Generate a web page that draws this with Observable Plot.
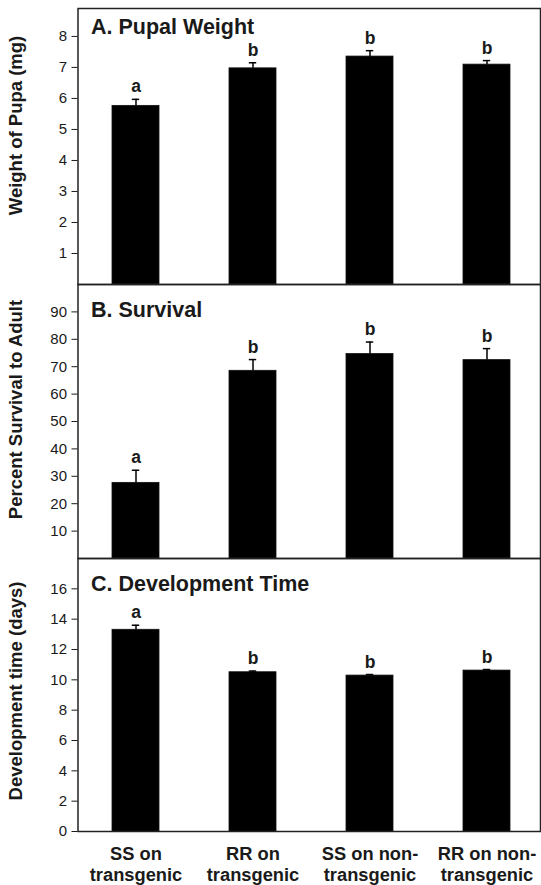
<!DOCTYPE html>
<html>
<head>
<meta charset="utf-8">
<script src="https://cdn.jsdelivr.net/npm/d3@7"></script>
<script src="https://cdn.jsdelivr.net/npm/@observablehq/plot@0.6"></script>
<style>
  html, body { margin: 0; padding: 0; background: #ffffff; overflow: hidden; }
  #chart svg { display: block; }
</style>
</head>
<body>
<div id="chart"></div>
<script>
// ---- data ----
const groups = ["SS on\ntransgenic", "RR on\ntransgenic", "SS on non-\ntransgenic", "RR on non-\ntransgenic"];

const weightTitle = "A. Pupal Weight";
const weightLabel = "Weight of Pupa (mg)";
const weightValues = [5.76, 6.97, 7.35, 7.09];
const weightErrors = [0.21, 0.18, 0.19, 0.13];
const weightLetters = ["a", "b", "b", "b"];
const weightTicks = [1, 2, 3, 4, 5, 6, 7, 8];

const survivalTitle = "B. Survival";
const survivalLabel = "Percent Survival to Adult";
const survivalValues = [27.6, 68.5, 74.6, 72.4];
const survivalErrors = [4.6, 4.1, 4.4, 4.2];
const survivalLetters = ["a", "b", "b", "b"];
const survivalTicks = [10, 20, 30, 40, 50, 60, 70, 80, 90];

const devTitle = "C. Development Time";
const devLabel = "Development time (days)";
const devValues = [13.3, 10.5, 10.28, 10.61];
const devErrors = [0.3, 0.08, 0.07, 0.07];
const devLetters = ["a", "b", "b", "b"];
const devTicks = [0, 2, 4, 6, 8, 10, 12, 14, 16];

// ---- drawing ----
const FONT = "'Liberation Sans', Arial, Helvetica, sans-serif";
const INK = "#1a1a1a";

function rows(values, errors, letters) {
  return groups.map((g, i) => ({group: g, value: values[i], err: errors[i], letter: letters[i]}));
}

function panel({title, label, values, errors, letters, ticks, domain, height, marginTop, marginBottom, titleDy, labelDy, showX}) {
  const data = rows(values, errors, letters);
  const marks = [
    Plot.barY(data, {x: "group", y: "value", fill: "#000", stroke: "#111", strokeWidth: 0.8}),
    Plot.ruleX(data, {x: "group", y1: "value", y2: d => d.value + d.err, stroke: "#000", strokeWidth: 1.5}),
    Plot.tickY(data, {x: "group", y: d => d.value + d.err, stroke: "#000", strokeWidth: 1.5, insetLeft: 19.8, insetRight: 19.8}),
    Plot.text(data, {x: "group", y: d => d.value + d.err, text: "letter", lineAnchor: "bottom", dy: -7,
      fontSize: 17.5, fontWeight: "bold", fill: INK}),
    Plot.axisY({ticks, tickSize: 6, tickPadding: 5, fontSize: 15, label: null, stroke: INK, fill: INK}),
    Plot.text([title], {text: d => d, frameAnchor: "top-left", textAnchor: "start", lineAnchor: "bottom",
      dx: 13, dy: titleDy, fontSize: 21.5, fontWeight: "bold", fill: INK}),
    Plot.text([label], {text: d => d, frameAnchor: "left", rotate: -90, textAnchor: "middle", lineAnchor: "middle",
      dx: -61.5, dy: labelDy, fontSize: 18.5, fontWeight: "bold", fill: INK}),
    Plot.frame({stroke: "#222", strokeWidth: 1.5})
  ];
  if (showX) {
    marks.push(Plot.axisX({tickSize: 0, tickPadding: 14, fontSize: 18.3, fontWeight: "bold",
      lineHeight: 1.12, fill: INK, label: null}));
  }
  return Plot.plot({
    width: 541,
    height,
    marginTop,
    marginBottom,
    marginLeft: 77.5,
    marginRight: 1,
    style: {fontFamily: FONT, fontSize: "15px", background: "none", color: INK, overflow: "visible"},
    x: {domain: groups, range: [112, 510.7], paddingInner: 0.596, paddingOuter: 0, axis: showX ? undefined : null},
    y: {domain, axis: null},
    marks
  });
}

const chart = document.getElementById("chart");
chart.append(panel({title: weightTitle, label: weightLabel, values: weightValues, errors: weightErrors,
  letters: weightLetters, ticks: weightTicks, domain: [0, 8.9], height: 284, marginTop: 8, marginBottom: 0,
  titleDy: 25, labelDy: -21, showX: false}));
chart.append(panel({title: survivalTitle, label: survivalLabel, values: survivalValues, errors: survivalErrors,
  letters: survivalLetters, ticks: survivalTicks, domain: [0, 100], height: 274, marginTop: 0, marginBottom: 0,
  titleDy: 32, labelDy: -12, showX: false}));
chart.append(panel({title: devTitle, label: devLabel, values: devValues, errors: devErrors,
  letters: devLetters, ticks: devTicks, domain: [0, 18], height: 327, marginTop: 0, marginBottom: 54,
  titleDy: 32, labelDy: -4, showX: true}));
</script>
</body>
</html>
